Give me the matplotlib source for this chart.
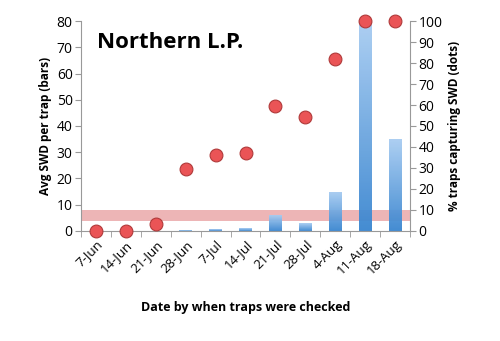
#!/usr/bin/env python3
"""Northern L.P. SWD trap captures: bars (avg per trap) and dots (% traps)."""

import numpy as np
import matplotlib.pyplot as plt
from matplotlib.colors import LinearSegmentedColormap

dates = ["7-Jun", "14-Jun", "21-Jun", "28-Jun", "7-Jul", "14-Jul",
         "21-Jul", "28-Jul", "4-Aug", "11-Aug", "18-Aug"]
avg_swd = [0, 0, 0, 0.3, 0.7, 1.0, 6.0, 3.0, 15.0, 80.0, 35.0]
pct_traps = [0, 0, 3.5, 29.5, 36, 37, 59.5, 54.5, 82, 100, 100]
band_low, band_high = 3.6, 7.8

plt.rcParams["font.family"] = ["Open Sans", "DejaVu Sans"]

fig = plt.figure(figsize=(5, 3.41), dpi=100)
ax = fig.add_axes([0.162, 0.323, 0.658, 0.615])
x = np.arange(len(dates))

# band of the threshold
ax.axhspan(band_low, band_high, color="#e79c9e", alpha=0.75, lw=0, zorder=1)

# gradient bars
cmap = LinearSegmentedColormap.from_list("blu", ["#3a86d0", "#a9cdf2"])
bars = ax.bar(x, avg_swd, width=0.42, color="none", zorder=2)
grad = np.linspace(0, 1, 256).reshape(-1, 1)
for b in bars:
    h = b.get_height()
    if h <= 0:
        continue
    im = ax.imshow(grad, cmap=cmap, aspect="auto", origin="lower",
                   extent=[b.get_x(), b.get_x() + b.get_width(), 0, h],
                   zorder=2, alpha=0.95)
    im.set_clip_path(b)

ax.set_xlim(-0.5, len(dates) - 0.5)
ax.set_ylim(0, 80)
ax.set_yticks(range(0, 81, 10))
ax.set_xticks(x)
ax.set_xticklabels(dates, rotation=45, ha="right", rotation_mode="anchor", fontsize=9.5)
ax.set_xticks(np.arange(-0.5, len(dates)), minor=True)
ax.tick_params(axis="x", which="major", length=0, pad=5)
ax.tick_params(axis="x", which="minor", length=4, color="#999999")
ax.tick_params(axis="y", labelsize=10, length=4, color="#999999", pad=2)
for s in ["top", "right"]:
    ax.spines[s].set_visible(False)
for s in ["left", "bottom"]:
    ax.spines[s].set_color("#999999")
ax.set_ylabel("Avg SWD per trap (bars)", fontsize=8.5, fontweight="bold", labelpad=3)
ax.set_xlabel("Date by when traps were checked", fontsize=9, fontweight="bold", labelpad=17)

ax.text(0.05, 0.9, "Northern L.P.", transform=ax.transAxes, fontsize=16,
        fontweight="bold", va="center", ha="left")

ax2 = ax.twinx()
ax2.set_ylim(0, 100)
ax2.set_yticks(range(0, 101, 10))
ax2.scatter(x, pct_traps, s=85, color="#ea5456", edgecolor="#b03a3a",
            linewidth=0.8, zorder=5, clip_on=False)
for s in ["top", "left", "bottom"]:
    ax2.spines[s].set_visible(False)
ax2.spines["right"].set_color("#999999")
ax2.tick_params(axis="y", labelsize=10, length=4, color="#999999", pad=2)
ax2.set_ylabel("% traps capturing SWD (dots)", fontsize=8.5, fontweight="bold", labelpad=4)

fig.savefig("out.png", dpi=100)
